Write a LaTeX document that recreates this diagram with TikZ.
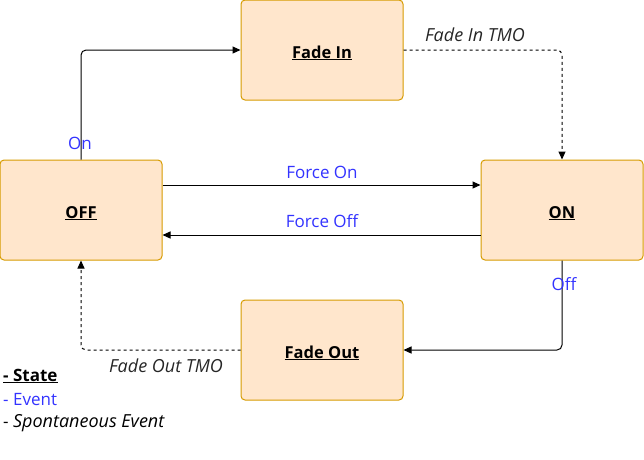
\documentclass[tikz,border=0pt]{standalone}
\usepackage{fontspec}
\setmainfont{Open Sans}
\usetikzlibrary{arrows.meta}
\definecolor{stfill}{HTML}{FFE6CC}
\definecolor{stdraw}{HTML}{D79B00}
\definecolor{evblue}{HTML}{3333FF}
\tikzset{
  state/.style={draw=stdraw, fill=stfill, rounded corners=4pt, minimum width=162pt, minimum height=100pt, line width=1pt, text height=20pt, text depth=4pt, font=\fontsize{16.5}{19}\selectfont\bfseries},
  arr/.style={draw=black, line width=1pt, rounded corners=5pt, -{Triangle[length=8pt,width=7pt]}},
  spont/.style={arr, dash pattern=on 3pt off 3pt},
  ev/.style={text=evblue, font=\fontsize{17}{20}\selectfont, inner sep=1pt},
  sp/.style={text=black!85, font=\fontsize{18}{21}\selectfont\itshape, inner sep=1pt},
}
\begin{document}
\begin{tikzpicture}[x=1pt,y=-1pt]
\useasboundingbox (0,0) rectangle (644,459);
\node[state] (fadein) at (322,50) {\underline{Fade In}};
\node[state] (off) at (81,210) {\underline{OFF}};
\node[state] (on) at (562,210) {\underline{ON}};
\node[state] (fadeout) at (322,350) {\underline{Fade Out}};

\draw[arr] (off.north) |- (fadein.west);
\draw[spont] (fadein.east) -| (on.north);
\draw[arr] ([yshift=25pt]off.east) -- ([yshift=25pt]on.west);
\draw[arr] ([yshift=-25pt]on.west) -- ([yshift=-25pt]off.east);
\draw[arr] (on.south) |- (fadeout.east);
\draw[spont] (fadeout.west) -| (off.south);

\node[ev] (lon) at (80,143) {On};
\node[sp] (lfit) at (475,35) {Fade In TMO};
\node[ev] (lfon) at (322,172) {Force On};
\node[ev] (lfoff) at (322,221) {Force Off};
\node[ev] (loff) at (564,284) {Off};
\node[sp] (lfot) at (166,366) {Fade Out TMO};

\node[anchor=west, inner sep=1pt, font=\fontsize{17}{20}\selectfont\bfseries] (lg1) at (2,376) {\underline{- State}};
\node[anchor=west, inner sep=1pt, ev] (lg2) at (2,400) {- Event};
\node[anchor=west, inner sep=1pt, font=\fontsize{17}{20}\selectfont] (lg3) at (2,423) {- {\fontsize{18}{21}\selectfont\itshape Spontaneous Event}};
\end{tikzpicture}
\end{document}
